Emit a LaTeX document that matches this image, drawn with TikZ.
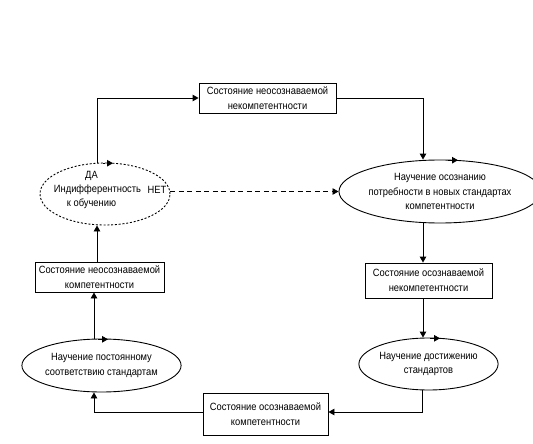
\documentclass[tikz,border=0pt]{standalone}
\usepackage{fontspec}
\setmainfont[FakeStretch=0.89]{Liberation Sans}
\usetikzlibrary{shapes.geometric,arrows.meta,calc}
\begin{document}
\begin{tikzpicture}[x=1pt,y=-1pt,
  every node/.style={font=\fontsize{10.5}{14.8}\selectfont, align=center, inner sep=0pt},
  boxst/.style={draw, line width=0.9pt, rectangle},
  ellst/.style={draw, line width=0.9pt, ellipse},
  dellst/.style={draw, line width=0.9pt, ellipse, dash pattern=on 2pt off 1.8pt},
  arr/.style={line width=0.9pt, -{Triangle[length=6pt,width=6.5pt]}},
  darr/.style={line width=0.9pt, dash pattern=on 5pt off 3.5pt, -{Triangle[length=6pt,width=6.5pt]}},
  tip/.style={line width=0.9pt, -{Triangle[length=6pt,width=6.5pt]}},
  dtip/.style={line width=0.9pt, dash pattern=on 2pt off 1.8pt, -{Triangle[length=6pt,width=6.5pt]}}
]
\useasboundingbox (0,0) rectangle (533,444);
\fill[white] (0,0) rectangle (533,444);

\node[boxst, minimum width=137pt, minimum height=30pt] (b1) at (267.5,98) {Состояние неосознаваемой\\некомпетентности};
\node[ellst, minimum width=170pt, minimum height=63pt] (e2) at (440,191.5) {Научение осознанию\\потребности в новых стандартах\\компетентности};
\node[boxst, minimum width=127pt, minimum height=35pt] (b2) at (428.5,280.5) {Состояние осознаваемой\\некомпетентности};
\node[ellst, minimum width=137pt, minimum height=52pt] (e3) at (428.5,364) {Научение достижению\\стандартов};
\node[boxst, minimum width=125pt, minimum height=42pt] (b3) at (265.5,414) {Состояние осознаваемой\\компетентности};
\node[ellst, minimum width=137pt, minimum height=53pt] (e4) at (101.5,365.5) {Научение постоянному\\соответствию стандартам};
\node[boxst, minimum width=129pt, minimum height=30pt] (b4) at (99.5,277) {Состояние неосознаваемой\\компетентности};
\node[dellst, minimum width=130pt, minimum height=62pt] (ind) at (105,194) {};
\node (indt) at (97.5,189.5) {Индифферентность};
\node (indk) at (91.5,204) {к обучению};
\node (da) at (91.5,176) {ДА};
\node (net) at (157,189.5) {НЕТ};

% small direction marks on the ellipses
\draw[tip] (448,160.2) -- (458,160.2);
\draw[tip] (430,338.3) -- (440,338.3);
\draw[tip] (98,339.3) -- (108,339.3);
\draw[dtip] (103,163.2) -- (113,163.2);

% connectors
\draw[arr] (b1.east) -| ([xshift=-17pt]e2.north);
\draw[arr] ([xshift=-17pt]e2.south) -- ([xshift=-17pt]e2.south |- b2.north);
\draw[arr] ([xshift=-5.5pt]b2.south) -- ([xshift=-5.5pt]b2.south |- e3.north);
\draw[arr] ([xshift=-6.5pt]e3.south) |- ([yshift=2pt]b3.east);
\draw[arr] ([yshift=2pt]b3.west) -| ([xshift=-7.5pt]e4.south);
\draw[arr] ([xshift=-7.5pt]e4.north) -- ([xshift=-7.5pt]e4.north |- b4.south);
\draw[arr] ([xshift=-2.5pt]b4.north) -- ([xshift=-2.5pt]b4.north |- ind.south);
\draw[arr] ([xshift=-8pt]ind.north) |- (b1.west);
\draw[darr] (ind.east |- e2.west) -- (e2.west);
\end{tikzpicture}
\end{document}
